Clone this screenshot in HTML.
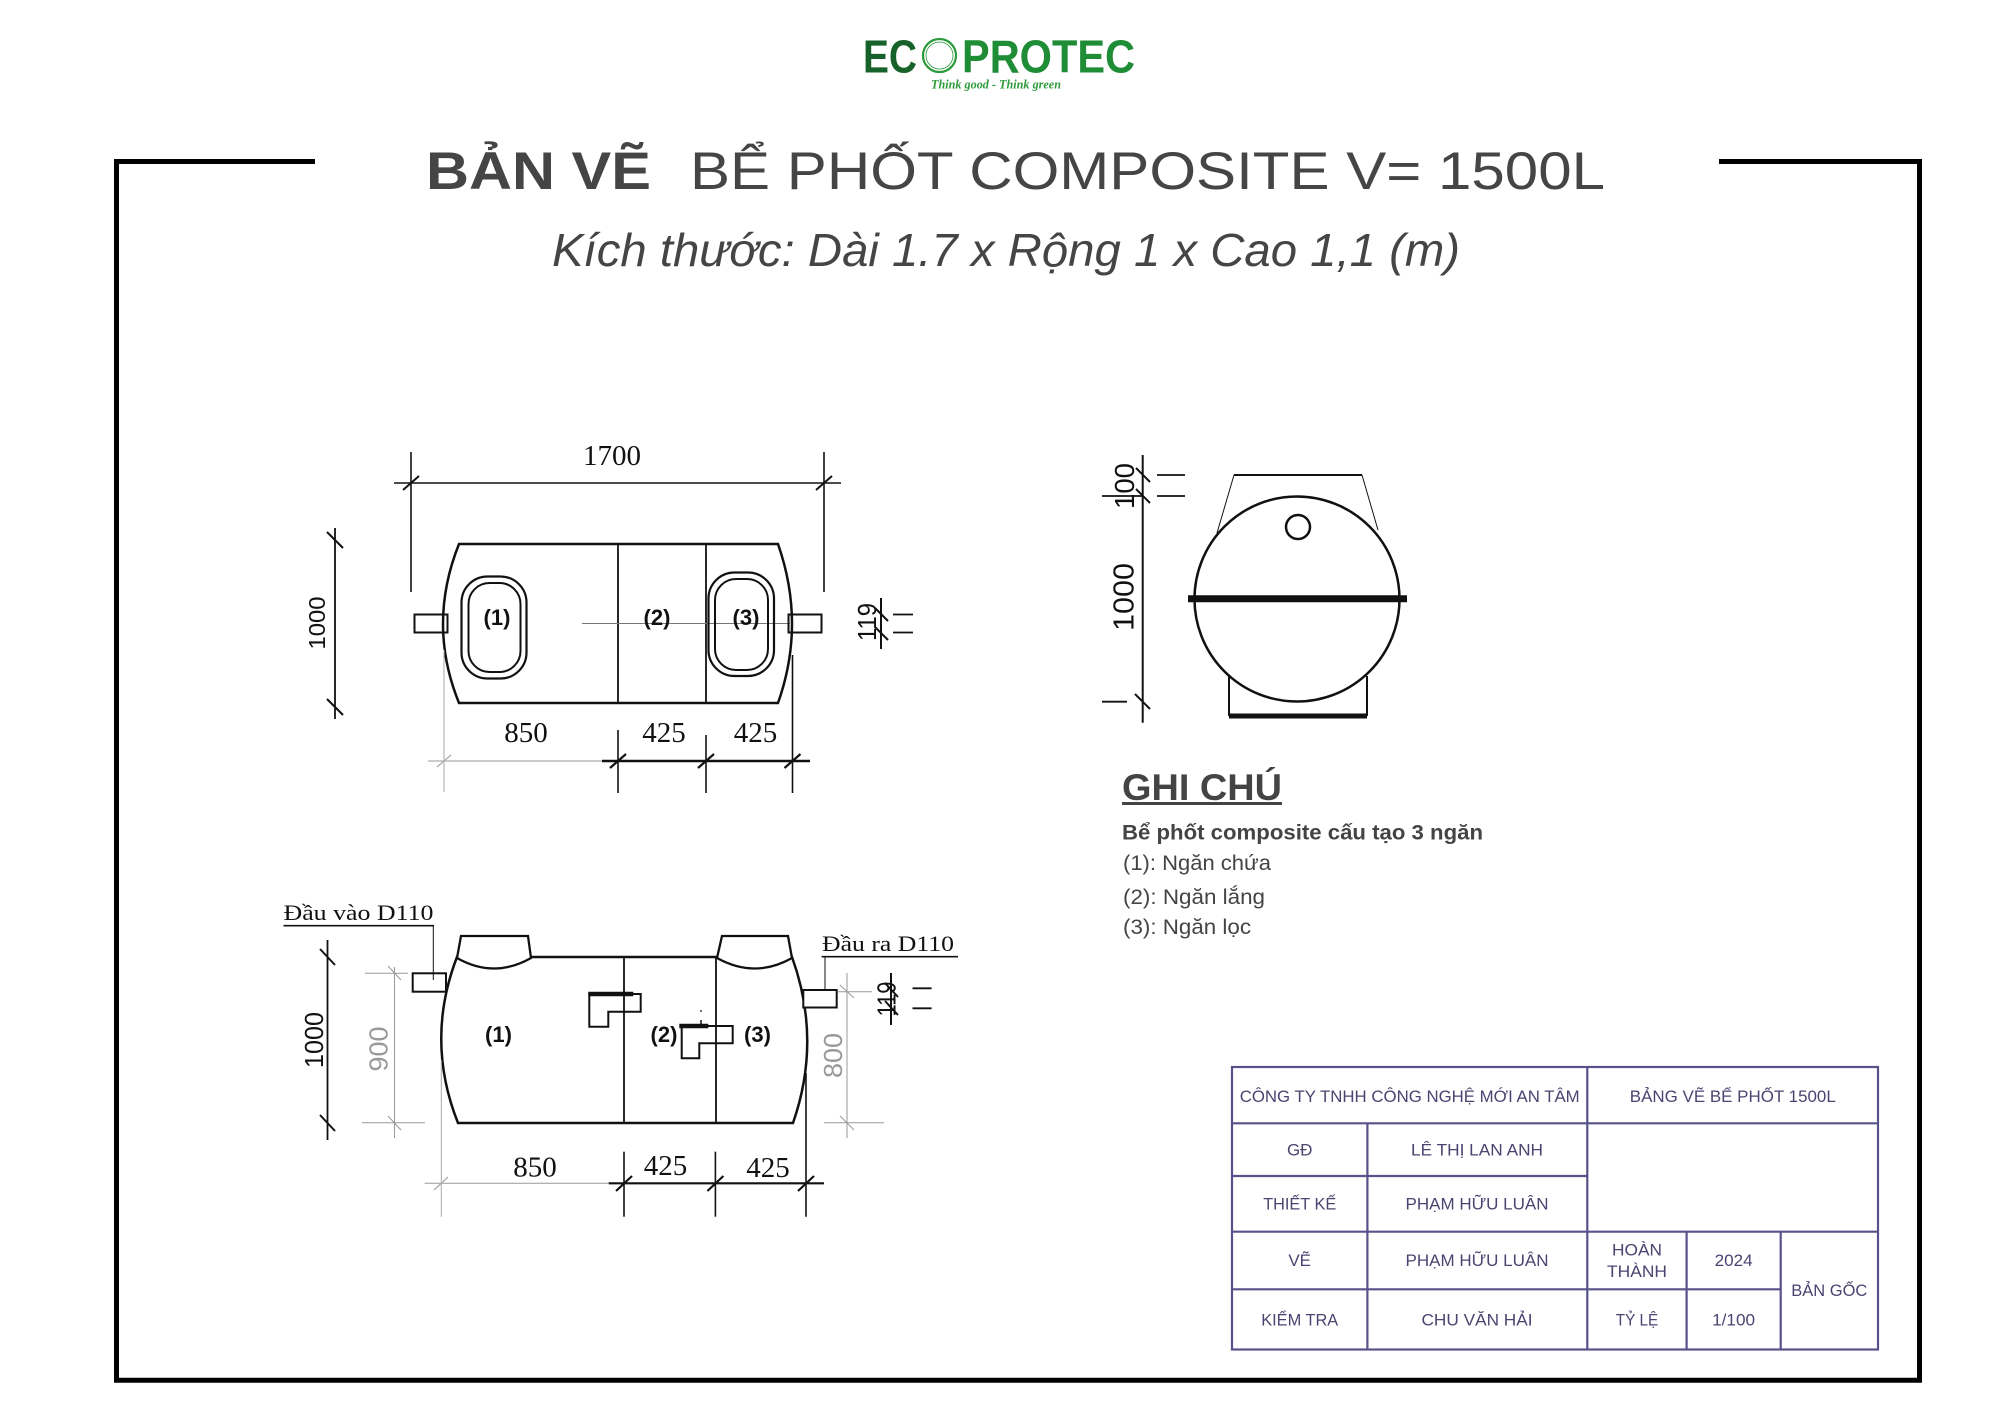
<!DOCTYPE html>
<html><head><meta charset="utf-8"><style>
html,body{margin:0;padding:0;background:#fff;}
svg{display:block;}
</style></head><body>
<svg width="2000" height="1414" viewBox="0 0 2000 1414" xmlns="http://www.w3.org/2000/svg">
<rect width="2000" height="1414" fill="#fff"/>

<!-- LOGO -->
<g font-family="Liberation Sans, sans-serif" font-weight="bold">
  <text x="863" y="72.5" font-size="46" fill="#17622a" textLength="54" lengthAdjust="spacingAndGlyphs">EC</text>
  <circle cx="939.5" cy="55.5" r="16.5" fill="none" stroke="#2a9a3a" stroke-width="2.2"/>
  <circle cx="939.5" cy="55.5" r="13.5" fill="none" stroke="#2a9a3a" stroke-width="0.8"/>
  <text x="962" y="72.5" font-size="46" fill="#1f8c36" textLength="173" lengthAdjust="spacingAndGlyphs">PROTEC</text>
</g>
<text x="931" y="88.5" font-family="Liberation Serif, serif" font-style="italic" font-weight="bold" font-size="13" fill="#2e9a3a" textLength="130" lengthAdjust="spacingAndGlyphs">Think good - Think green</text>

<!-- FRAME -->
<path d="M315,161.5 H116.5 V1380.2 H1919.5 V161.5 H1719" fill="none" stroke="#000" stroke-width="5"/>

<!-- TITLE -->
<g font-family="Liberation Sans, sans-serif" fill="#454545">
  <text x="426" y="189" font-size="53" font-weight="bold" textLength="225" lengthAdjust="spacingAndGlyphs">BẢN VẼ</text>
  <text x="690" y="189" font-size="53" textLength="915" lengthAdjust="spacingAndGlyphs">BỂ PHỐT COMPOSITE V= 1500L</text>
  <text x="552" y="266" font-size="46" font-style="italic" textLength="908" lengthAdjust="spacingAndGlyphs">Kích thước: Dài 1.7 x Rộng 1 x Cao 1,1 (m)</text>
</g>

<!-- ================= TOP VIEW ================= -->
<g stroke="#111" fill="none" stroke-linecap="butt">
  <line x1="394" y1="483" x2="841" y2="483" stroke-width="1.6"/>
  <line x1="411" y1="452" x2="411" y2="592" stroke-width="1.6"/>
  <line x1="824" y1="452" x2="824" y2="592" stroke-width="1.6"/>
  <line x1="403" y1="490" x2="419" y2="476" stroke-width="2"/>
  <line x1="816" y1="490" x2="832" y2="476" stroke-width="2"/>
  <path d="M459,544 L778,544 Q806,624 778,703 L459,703 Q427,624 459,544 Z" stroke-width="2.5"/>
  <line x1="618" y1="544" x2="618" y2="703" stroke-width="1.8"/>
  <line x1="706" y1="544" x2="706" y2="703" stroke-width="1.8"/>
  <line x1="582" y1="623.5" x2="790" y2="623.5" stroke-width="1" stroke="#777"/>
  <rect x="414.5" y="614.5" width="33" height="18" stroke-width="2"/>
  <rect x="788.5" y="614.5" width="33" height="18" stroke-width="2"/>
  <rect x="461.5" y="576.5" width="65" height="102" rx="26" stroke-width="2.2"/>
  <rect x="468.5" y="583" width="52" height="89" rx="21" stroke-width="2"/>
  <rect x="708.5" y="572.5" width="65.5" height="103.5" rx="26" stroke-width="2.2"/>
  <rect x="715" y="579" width="53" height="91" rx="21" stroke-width="2"/>
  <line x1="335" y1="528" x2="335" y2="719" stroke-width="1.8"/>
  <line x1="327" y1="532" x2="343" y2="548" stroke-width="2"/>
  <line x1="327" y1="699" x2="343" y2="715" stroke-width="2"/>
  <line x1="881" y1="598" x2="881" y2="649" stroke-width="2"/>
  <line x1="875" y1="608" x2="888" y2="621" stroke-width="2"/>
  <line x1="875" y1="627" x2="888" y2="640" stroke-width="2"/>
  <line x1="893" y1="614.5" x2="913" y2="614.5" stroke-width="1.8"/>
  <line x1="893" y1="632.5" x2="913" y2="632.5" stroke-width="1.8"/>
  <line x1="428" y1="761" x2="602" y2="761" stroke-width="1" stroke="#999"/>
  <line x1="602" y1="761" x2="810" y2="761" stroke-width="2.4"/>
  <line x1="444" y1="650" x2="444" y2="792" stroke-width="1" stroke="#aaa"/>
  <line x1="618" y1="730" x2="618" y2="793" stroke-width="1.6"/>
  <line x1="706" y1="735" x2="706" y2="793" stroke-width="1.6"/>
  <line x1="792.5" y1="655" x2="792.5" y2="793" stroke-width="1.6"/>
  <line x1="437" y1="767" x2="451" y2="755" stroke-width="1.2" stroke="#aaa"/>
  <line x1="610" y1="768" x2="626" y2="754" stroke-width="2.2"/>
  <line x1="698" y1="768" x2="714" y2="754" stroke-width="2.2"/>
  <line x1="784.5" y1="768" x2="800.5" y2="754" stroke-width="2.2"/>
</g>
<g font-family="Liberation Serif, serif" fill="#111" text-anchor="middle" font-size="29">
  <text x="612" y="465">1700</text>
  <text x="526" y="742">850</text>
  <text x="664" y="742">425</text>
  <text x="755.5" y="742">425</text>
</g>
<g font-family="Liberation Sans, sans-serif" fill="#111" text-anchor="middle">
  <text x="497" y="625" font-size="22" font-weight="bold">(1)</text>
  <text x="657" y="625" font-size="22" font-weight="bold">(2)</text>
  <text x="746" y="625" font-size="22" font-weight="bold">(3)</text>
  <text x="0" y="0" font-size="23" transform="translate(325,623) rotate(-90)" textLength="53" lengthAdjust="spacingAndGlyphs">1000</text>
  <text x="0" y="0" font-size="26" transform="translate(876,622) rotate(-90)" textLength="38" lengthAdjust="spacingAndGlyphs">119</text>
</g>

<!-- ================= FRONT VIEW ================= -->
<g stroke="#111" fill="none">
  <line x1="283.5" y1="925.7" x2="434" y2="925.7" stroke-width="1.6"/>
  <line x1="433.3" y1="925.7" x2="433.3" y2="980" stroke-width="1"/>
  <line x1="821.6" y1="956.7" x2="958" y2="956.7" stroke-width="1.6"/>
  <line x1="825" y1="957" x2="825" y2="990" stroke-width="1"/>
  <path d="M457,957 L792,957 Q822,1040 793,1123 L458,1123 Q425,1040 457,957 Z" stroke-width="2.5"/>
  <line x1="624" y1="957" x2="624" y2="1123" stroke-width="1.8"/>
  <line x1="716" y1="957" x2="716" y2="1123" stroke-width="1.8"/>
  <path d="M461,936 L528,936 L531,958 Q494,979 457,958 Z" stroke-width="2.3" fill="#fff"/>
  <path d="M722,936 L788,936 L792,958 Q755,979 717,958 Z" stroke-width="2.3" fill="#fff"/>
  <rect x="412.7" y="973.3" width="33.3" height="18.4" stroke-width="2" fill="#fff"/>
  <rect x="803.3" y="990" width="33.4" height="17.5" stroke-width="2" fill="#fff"/>
  <line x1="433.3" y1="973.3" x2="433.3" y2="980" stroke-width="1"/>
  <path d="M589.3,994 L640.7,994 L640.7,1011.7 L608.3,1011.7 L608.3,1026.7 L589.3,1026.7 Z" stroke-width="2" fill="#fff"/>
  <line x1="588.3" y1="994" x2="633.3" y2="994" stroke-width="4.5"/>
  <path d="M681.7,1026 L732.7,1026 L732.7,1043.3 L699.3,1043.3 L699.3,1058.3 L681.7,1058.3 Z" stroke-width="2" fill="#fff"/>
  <line x1="679.3" y1="1026" x2="708.3" y2="1026" stroke-width="4.5"/>
  <line x1="701" y1="1020" x2="701" y2="1026" stroke-width="1.5"/>
  <circle cx="701" cy="1011" r="0.9" fill="#111" stroke="none"/>
  <line x1="624" y1="994" x2="624" y2="1012" stroke-width="1.8"/>
  <line x1="716" y1="1026" x2="716" y2="1044" stroke-width="1.8"/>
  <line x1="327.5" y1="940" x2="327.5" y2="1140" stroke-width="1.8"/>
  <line x1="320" y1="949" x2="335" y2="965" stroke-width="2"/>
  <line x1="320" y1="1115" x2="335" y2="1131" stroke-width="2"/>
  <g stroke="#999" stroke-width="1">
    <line x1="394.5" y1="967" x2="394.5" y2="1138"/>
    <line x1="365" y1="973.3" x2="408" y2="973.3"/>
    <line x1="362" y1="1122.7" x2="425" y2="1122.7"/>
    <line x1="388" y1="966" x2="401" y2="980"/>
    <line x1="388" y1="1116" x2="401" y2="1130"/>
  </g>
  <g stroke="#999" stroke-width="1">
    <line x1="847" y1="973" x2="847" y2="1138"/>
    <line x1="838" y1="991.7" x2="872" y2="991.7"/>
    <line x1="824" y1="1122.7" x2="884" y2="1122.7"/>
    <line x1="840" y1="985" x2="854" y2="998"/>
    <line x1="840" y1="1116" x2="854" y2="1130"/>
  </g>
  <line x1="891" y1="973" x2="891" y2="1025" stroke-width="2"/>
  <line x1="885" y1="983" x2="898" y2="997" stroke-width="2"/>
  <line x1="885" y1="1001" x2="898" y2="1015" stroke-width="2"/>
  <line x1="912.5" y1="988.3" x2="931.6" y2="988.3" stroke-width="1.8"/>
  <line x1="912.5" y1="1008.3" x2="931.6" y2="1008.3" stroke-width="1.8"/>
  <line x1="424.6" y1="1183.3" x2="608.7" y2="1183.3" stroke-width="1" stroke="#999"/>
  <line x1="608.7" y1="1183.3" x2="824" y2="1183.3" stroke-width="2.2"/>
  <line x1="441.3" y1="1060" x2="441.3" y2="1216.7" stroke-width="1" stroke="#aaa"/>
  <line x1="624" y1="1151.7" x2="624" y2="1216.7" stroke-width="1.6"/>
  <line x1="715.4" y1="1151.7" x2="715.4" y2="1216.7" stroke-width="1.6"/>
  <line x1="806" y1="1073" x2="806" y2="1216.7" stroke-width="1.6"/>
  <line x1="434" y1="1190" x2="448" y2="1177" stroke-width="1.2" stroke="#aaa"/>
  <line x1="616" y1="1191" x2="632" y2="1176" stroke-width="2.2"/>
  <line x1="707.4" y1="1191" x2="723.4" y2="1176" stroke-width="2.2"/>
  <line x1="798" y1="1191" x2="814" y2="1176" stroke-width="2.2"/>
</g>
<g font-family="Liberation Serif, serif" fill="#111">
  <text x="283.5" y="920" font-size="22" textLength="150" lengthAdjust="spacingAndGlyphs">Đầu vào D110</text>
  <text x="822" y="951" font-size="22" textLength="132" lengthAdjust="spacingAndGlyphs">Đầu ra D110</text>
  <g text-anchor="middle" font-size="29">
    <text x="535" y="1176.5">850</text>
    <text x="665.5" y="1175">425</text>
    <text x="768" y="1177">425</text>
  </g>
</g>
<g font-family="Liberation Sans, sans-serif" fill="#111" text-anchor="middle">
  <text x="498.5" y="1042" font-size="22" font-weight="bold">(1)</text>
  <text x="664" y="1042" font-size="22" font-weight="bold">(2)</text>
  <text x="757.5" y="1042" font-size="22" font-weight="bold">(3)</text>
  <text x="0" y="0" font-size="26" transform="translate(323,1040) rotate(-90)" textLength="56" lengthAdjust="spacingAndGlyphs">1000</text>
  <text x="0" y="0" font-size="26" fill="#999" transform="translate(387.5,1049) rotate(-90)" textLength="45" lengthAdjust="spacingAndGlyphs">900</text>
  <text x="0" y="0" font-size="26" fill="#999" transform="translate(842,1055.5) rotate(-90)" textLength="45" lengthAdjust="spacingAndGlyphs">800</text>
  <text x="0" y="0" font-size="26" transform="translate(895.5,999) rotate(-90)" textLength="35" lengthAdjust="spacingAndGlyphs">119</text>
</g>

<!-- ================= SIDE VIEW ================= -->
<g stroke="#111" fill="none">
  <line x1="1234" y1="475" x2="1362" y2="475" stroke-width="2"/>
  <line x1="1234" y1="475" x2="1217" y2="533" stroke-width="1"/>
  <line x1="1362" y1="475" x2="1378" y2="530" stroke-width="1"/>
  <circle cx="1297" cy="599" r="102.5" stroke-width="2.5"/>
  <line x1="1188" y1="598.7" x2="1407" y2="598.7" stroke-width="7"/>
  <circle cx="1298" cy="527" r="12" stroke-width="2.5"/>
  <line x1="1229" y1="676" x2="1229" y2="716" stroke-width="2"/>
  <line x1="1367" y1="676" x2="1367" y2="716" stroke-width="2"/>
  <line x1="1229" y1="716" x2="1367" y2="716" stroke-width="5"/>
  <line x1="1142.7" y1="455" x2="1142.7" y2="722.7" stroke-width="2"/>
  <line x1="1136" y1="468" x2="1150" y2="482" stroke-width="2"/>
  <line x1="1136" y1="489" x2="1150" y2="503" stroke-width="2"/>
  <line x1="1135" y1="694" x2="1150" y2="709" stroke-width="2"/>
  <line x1="1157" y1="475" x2="1185" y2="475" stroke-width="1.8"/>
  <line x1="1157" y1="496" x2="1185" y2="496" stroke-width="1.8"/>
  <line x1="1102" y1="496" x2="1142" y2="496" stroke-width="1.8"/>
  <line x1="1102" y1="701.7" x2="1127" y2="701.7" stroke-width="1.8"/>
</g>
<g font-family="Liberation Sans, sans-serif" fill="#111" text-anchor="middle">
  <text x="0" y="0" font-size="28" transform="translate(1134,486) rotate(-90)" textLength="46" lengthAdjust="spacingAndGlyphs">100</text>
  <text x="0" y="0" font-size="29" transform="translate(1133.5,597) rotate(-90)" textLength="68" lengthAdjust="spacingAndGlyphs">1000</text>
</g>

<!-- ================= GHI CHU ================= -->
<g font-family="Liberation Sans, sans-serif" fill="#444">
  <text x="1122" y="800" font-size="37" font-weight="bold" textLength="160" lengthAdjust="spacingAndGlyphs">GHI CHÚ</text>
  <rect x="1122" y="802" width="160" height="3" fill="#444"/>
  <text x="1122" y="839.5" font-size="21" font-weight="bold" textLength="361" lengthAdjust="spacingAndGlyphs">Bể phốt composite cấu tạo 3 ngăn</text>
  <text x="1123" y="870" font-size="21" textLength="148" lengthAdjust="spacingAndGlyphs">(1): Ngăn chứa</text>
  <text x="1123" y="904" font-size="21" textLength="142" lengthAdjust="spacingAndGlyphs">(2): Ngăn lắng</text>
  <text x="1123" y="934" font-size="21" textLength="128" lengthAdjust="spacingAndGlyphs">(3): Ngăn lọc</text>
</g>

<!-- ================= TABLE ================= -->
<g stroke="#58528a" stroke-width="2.2" fill="none">
  <rect x="1232" y="1067" width="646" height="282.5"/>
  <line x1="1232" y1="1123.3" x2="1878" y2="1123.3"/>
  <line x1="1232" y1="1176" x2="1587.3" y2="1176"/>
  <line x1="1232" y1="1231.7" x2="1878" y2="1231.7"/>
  <line x1="1232" y1="1289.3" x2="1780.7" y2="1289.3"/>
  <line x1="1367.4" y1="1123.3" x2="1367.4" y2="1349.5"/>
  <line x1="1587.3" y1="1067" x2="1587.3" y2="1349.5"/>
  <line x1="1686.6" y1="1231.7" x2="1686.6" y2="1349.5"/>
  <line x1="1780.7" y1="1231.7" x2="1780.7" y2="1349.5"/>
</g>
<g font-family="Liberation Sans, sans-serif" fill="#4a4470" font-size="17" text-anchor="middle">
  <text x="1409.7" y="1101.8" textLength="340" lengthAdjust="spacingAndGlyphs">CÔNG TY TNHH CÔNG NGHỆ MỚI AN TÂM</text>
  <text x="1732.8" y="1101.8" textLength="206" lengthAdjust="spacingAndGlyphs">BẢNG VẼ BỂ PHỐT 1500L</text>
  <text x="1299.7" y="1155.5">GĐ</text>
  <text x="1477" y="1155.5" textLength="132" lengthAdjust="spacingAndGlyphs">LÊ THỊ LAN ANH</text>
  <text x="1299.7" y="1209.5" textLength="73" lengthAdjust="spacingAndGlyphs">THIẾT KẾ</text>
  <text x="1477" y="1209.5" textLength="143" lengthAdjust="spacingAndGlyphs">PHẠM HỮU LUÂN</text>
  <text x="1299.7" y="1266">VẼ</text>
  <text x="1477" y="1266" textLength="143" lengthAdjust="spacingAndGlyphs">PHẠM HỮU LUÂN</text>
  <text x="1637" y="1255.5" textLength="50" lengthAdjust="spacingAndGlyphs">HOÀN</text>
  <text x="1637" y="1277" textLength="60" lengthAdjust="spacingAndGlyphs">THÀNH</text>
  <text x="1733.6" y="1266" textLength="38" lengthAdjust="spacingAndGlyphs">2024</text>
  <text x="1829.3" y="1296" textLength="76" lengthAdjust="spacingAndGlyphs">BẢN GỐC</text>
  <text x="1299.7" y="1325.5" textLength="77" lengthAdjust="spacingAndGlyphs">KIỂM TRA</text>
  <text x="1477" y="1325.5" textLength="111" lengthAdjust="spacingAndGlyphs">CHU VĂN HẢI</text>
  <text x="1637" y="1325.5" textLength="42.5" lengthAdjust="spacingAndGlyphs">TỶ LỆ</text>
  <text x="1733.6" y="1325.5" textLength="43" lengthAdjust="spacingAndGlyphs">1/100</text>
</g>
</svg>
</body></html>
